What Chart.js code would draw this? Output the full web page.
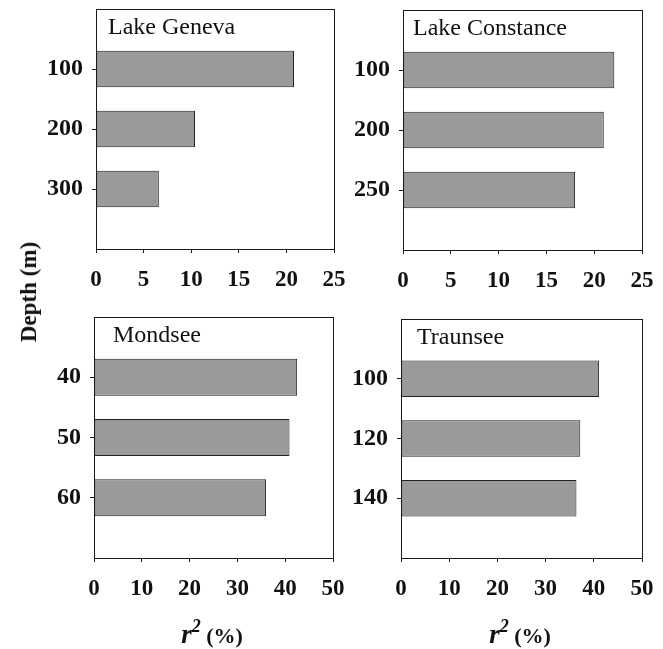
<!DOCTYPE html>
<html>
<head>
<meta charset="utf-8">
<script src="https://cdn.jsdelivr.net/npm/chart.js@4/dist/chart.umd.min.js"></script>
<style>
  body { margin: 0; background: #fff; }
  #wrap { position: relative; width: 663px; height: 649px; background: #fff; overflow: hidden; }
  canvas { position: absolute; }
  .lbl { position: absolute; font-family: "Liberation Serif", "Times New Roman", serif; font-weight: bold; color: #111; white-space: nowrap; }
  #ytitle { left: 29px; top: 292px; font-size: 23px; transform: translate(-50%, -50%) rotate(-90deg); }
  .xtitle { top: 619px; width: 120px; text-align: center; font-size: 22px; }
  .xtitle i { font-size: 27px; }
  .xtitle sup { font-size: 18px; font-style: italic; position: relative; top: -3px; }
</style>
</head>
<body>
<div id="wrap">
  <canvas id="c1" width="345" height="300" style="left:0;top:0"></canvas>
  <canvas id="c2" width="318" height="300" style="left:345px;top:0"></canvas>
  <canvas id="c3" width="345" height="349" style="left:0;top:300px"></canvas>
  <canvas id="c4" width="318" height="349" style="left:345px;top:300px"></canvas>
  <div id="ytitle" class="lbl">Depth (m)</div>
  <div class="lbl xtitle" style="left:152px"><i>r</i><sup>2</sup> (%)</div>
  <div class="lbl xtitle" style="left:460px"><i>r</i><sup>2</sup> (%)</div>
</div>
<script>
// depths (m) and r^2 (%) per lake
const genevaDepths = ['100', '200', '300'];
const genevaR2 = [20.8, 10.4, 6.6];

const constanceDepths = ['100', '200', '250'];
const constanceR2 = [22.1, 21.0, 18.0];

const mondseeDepths = ['40', '50', '60'];
const mondseeR2 = [42.5, 40.9, 36.0];

const traunseeDepths = ['100', '120', '140'];
const traunseeR2 = [41.1, 37.2, 36.4];

Chart.defaults.font.family = '"Liberation Serif", "Times New Roman", serif';
Chart.defaults.color = '#111';

const ink = '#1a1a1a';

// frame round the plot + lake name inside top-left
const framePlugin = {
  id: 'frame',
  afterDraw(chart, args, opts) {
    const a = chart.chartArea;
    const ctx = chart.ctx;
    ctx.save();
    ctx.strokeStyle = ink;
    ctx.lineWidth = 1;
    ctx.strokeRect(Math.round(a.left) + 0.5, Math.round(a.top) + 0.5,
      Math.round(a.right - a.left), Math.round(a.bottom - a.top));
    ctx.fillStyle = '#111';
    ctx.font = '24px "Liberation Serif", "Times New Roman", serif';
    ctx.textBaseline = 'alphabetic';
    ctx.fillText(opts.text, a.left + opts.dx, a.top + 25);
    ctx.restore();
  }
};

function makePanel(id, name, depths, values, xmax, step, box) {
  // empty slot above and below the three bars
  const labels = [''].concat(depths, ['']);
  const data = [null].concat(values, [null]);
  return new Chart(document.getElementById(id), {
    type: 'bar',
    data: {
      labels: labels,
      datasets: [{
        data: data,
        backgroundColor: '#9a9a9a',
        borderColor: '#222',
        borderWidth: 1,
        borderSkipped: false,
        categoryPercentage: 1,
        barPercentage: 0.61
      }]
    },
    options: {
      indexAxis: 'y',
      responsive: false,
      animation: false,
      layout: { padding: { top: box.top, right: box.right, left: 0, bottom: 0 } },
      plugins: {
        legend: { display: false },
        tooltip: { enabled: false },
        frame: { text: name, dx: box.dx }
      },
      scales: {
        x: {
          min: 0,
          max: xmax,
          ticks: { stepSize: step, padding: 13, font: { size: 23, weight: 'bold' } },
          grid: { drawOnChartArea: false, tickLength: 4, color: ink },
          border: { color: ink },
          afterFit: s => { s.height = box.xh; s.paddingLeft = 0; s.paddingRight = 0; }
        },
        y: {
          type: 'category',
          offset: false,
          ticks: { padding: 9, font: { size: 24, weight: 'bold' } },
          grid: {
            offset: false,
            drawOnChartArea: false,
            tickLength: 4,
            color: c => (c.index === 0 || c.index === labels.length - 1) ? 'rgba(0,0,0,0)' : ink
          },
          border: { color: ink },
          afterFit: s => { s.width = box.yw; s.paddingTop = 0; s.paddingBottom = 0; }
        }
      }
    },
    plugins: [framePlugin]
  });
}

makePanel('c1', 'Lake Geneva', genevaDepths, genevaR2, 25, 5,
  { top: 9, right: 11, xh: 51, yw: 96, dx: 12 });
makePanel('c2', 'Lake Constance', constanceDepths, constanceR2, 25, 5,
  { top: 10, right: 21, xh: 50, yw: 58, dx: 10 });
makePanel('c3', 'Mondsee', mondseeDepths, mondseeR2, 50, 10,
  { top: 17, right: 12, xh: 91, yw: 94, dx: 19 });
makePanel('c4', 'Traunsee', traunseeDepths, traunseeR2, 50, 10,
  { top: 19, right: 21, xh: 91, yw: 56, dx: 16 });
</script>
</body>
</html>
